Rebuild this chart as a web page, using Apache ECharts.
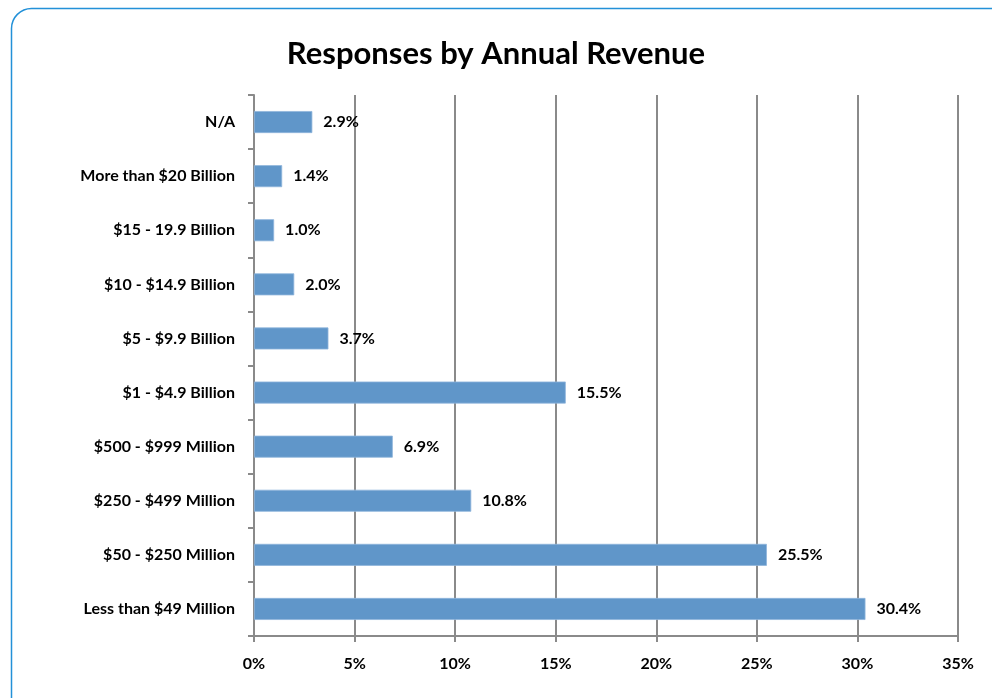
<!DOCTYPE html>
<html>
<head>
<meta charset="utf-8">
<script src="https://cdn.jsdelivr.net/npm/echarts@6/dist/echarts.min.js"></script>
<style>
  html, body { margin: 0; padding: 0; background: #ffffff; }
  #chart { width: 992px; height: 698px; }
</style>
</head>
<body>
<div id="chart"></div>
<script>
// Revenue bands, listed bottom to top as they appear on the axis
const categories = [
  'Less than $49 Million',
  '$50 - $250 Million',
  '$250 - $499 Million',
  '$500 - $999 Million',
  '$1 - $4.9 Billion',
  '$5 - $9.9 Billion',
  '$10 - $14.9 Billion',
  '$15 - 19.9 Billion',
  'More than $20 Billion',
  'N/A'
];
// Share of responses, percent
const shares = [30.4, 25.5, 10.8, 6.9, 15.5, 3.7, 2.0, 1.0, 1.4, 2.9];
const xTicks = { min: 0, max: 35, step: 5 };

const font = 'Lato, "Open Sans", sans-serif';
const gray = '#8a8a8a';
const labelSize = 16;

const chart = echarts.init(document.getElementById('chart'), null, { renderer: 'canvas' });
chart.setOption({
  backgroundColor: '#ffffff',
  animation: false,
  graphic: [{
    type: 'rect',
    left: 9, top: 6,
    shape: { width: 1010, height: 720, r: 20 },
    style: { fill: 'none', stroke: '#2391d8', lineWidth: 1.5 },
    z: 0
  }],
  title: {
    text: 'Responses by Annual Revenue',
    left: 'center',
    top: 33,
    textStyle: { fontFamily: font, fontWeight: 'bold', fontSize: 31, color: '#000' }
  },
  grid: { left: 254, right: 34, top: 95, bottom: 62 },
  xAxis: {
    type: 'value',
    min: xTicks.min, max: xTicks.max, interval: xTicks.step,
    axisLine: { show: true, lineStyle: { color: gray, width: 2 } },
    axisTick: { show: true, length: 6, lineStyle: { color: gray, width: 2 } },
    splitLine: { show: true, lineStyle: { color: gray, width: 2 } },
    axisLabel: {
      margin: 20,
      formatter: v => v + '%',
      fontFamily: font, fontWeight: 'bold', fontSize: labelSize, color: '#000'
    }
  },
  yAxis: {
    type: 'category',
    data: categories,
    axisLine: { show: true, lineStyle: { color: gray, width: 2 } },
    axisTick: { show: true, length: 6, lineStyle: { color: gray, width: 2 } },
    axisLabel: {
      margin: 19,
      fontFamily: font, fontWeight: 'bold', fontSize: labelSize, color: '#000'
    }
  },
  series: [{
    type: 'bar',
    data: shares,
    barWidth: 22,
    itemStyle: { color: '#6096c9', borderColor: '#8fb5dc', borderWidth: 0.8 },
    label: {
      show: true,
      position: 'right',
      distance: 11,
      formatter: p => p.value.toFixed(1) + '%',
      fontFamily: font, fontWeight: 'bold', fontSize: labelSize, color: '#000'
    }
  }]
});
</script>
</body>
</html>
